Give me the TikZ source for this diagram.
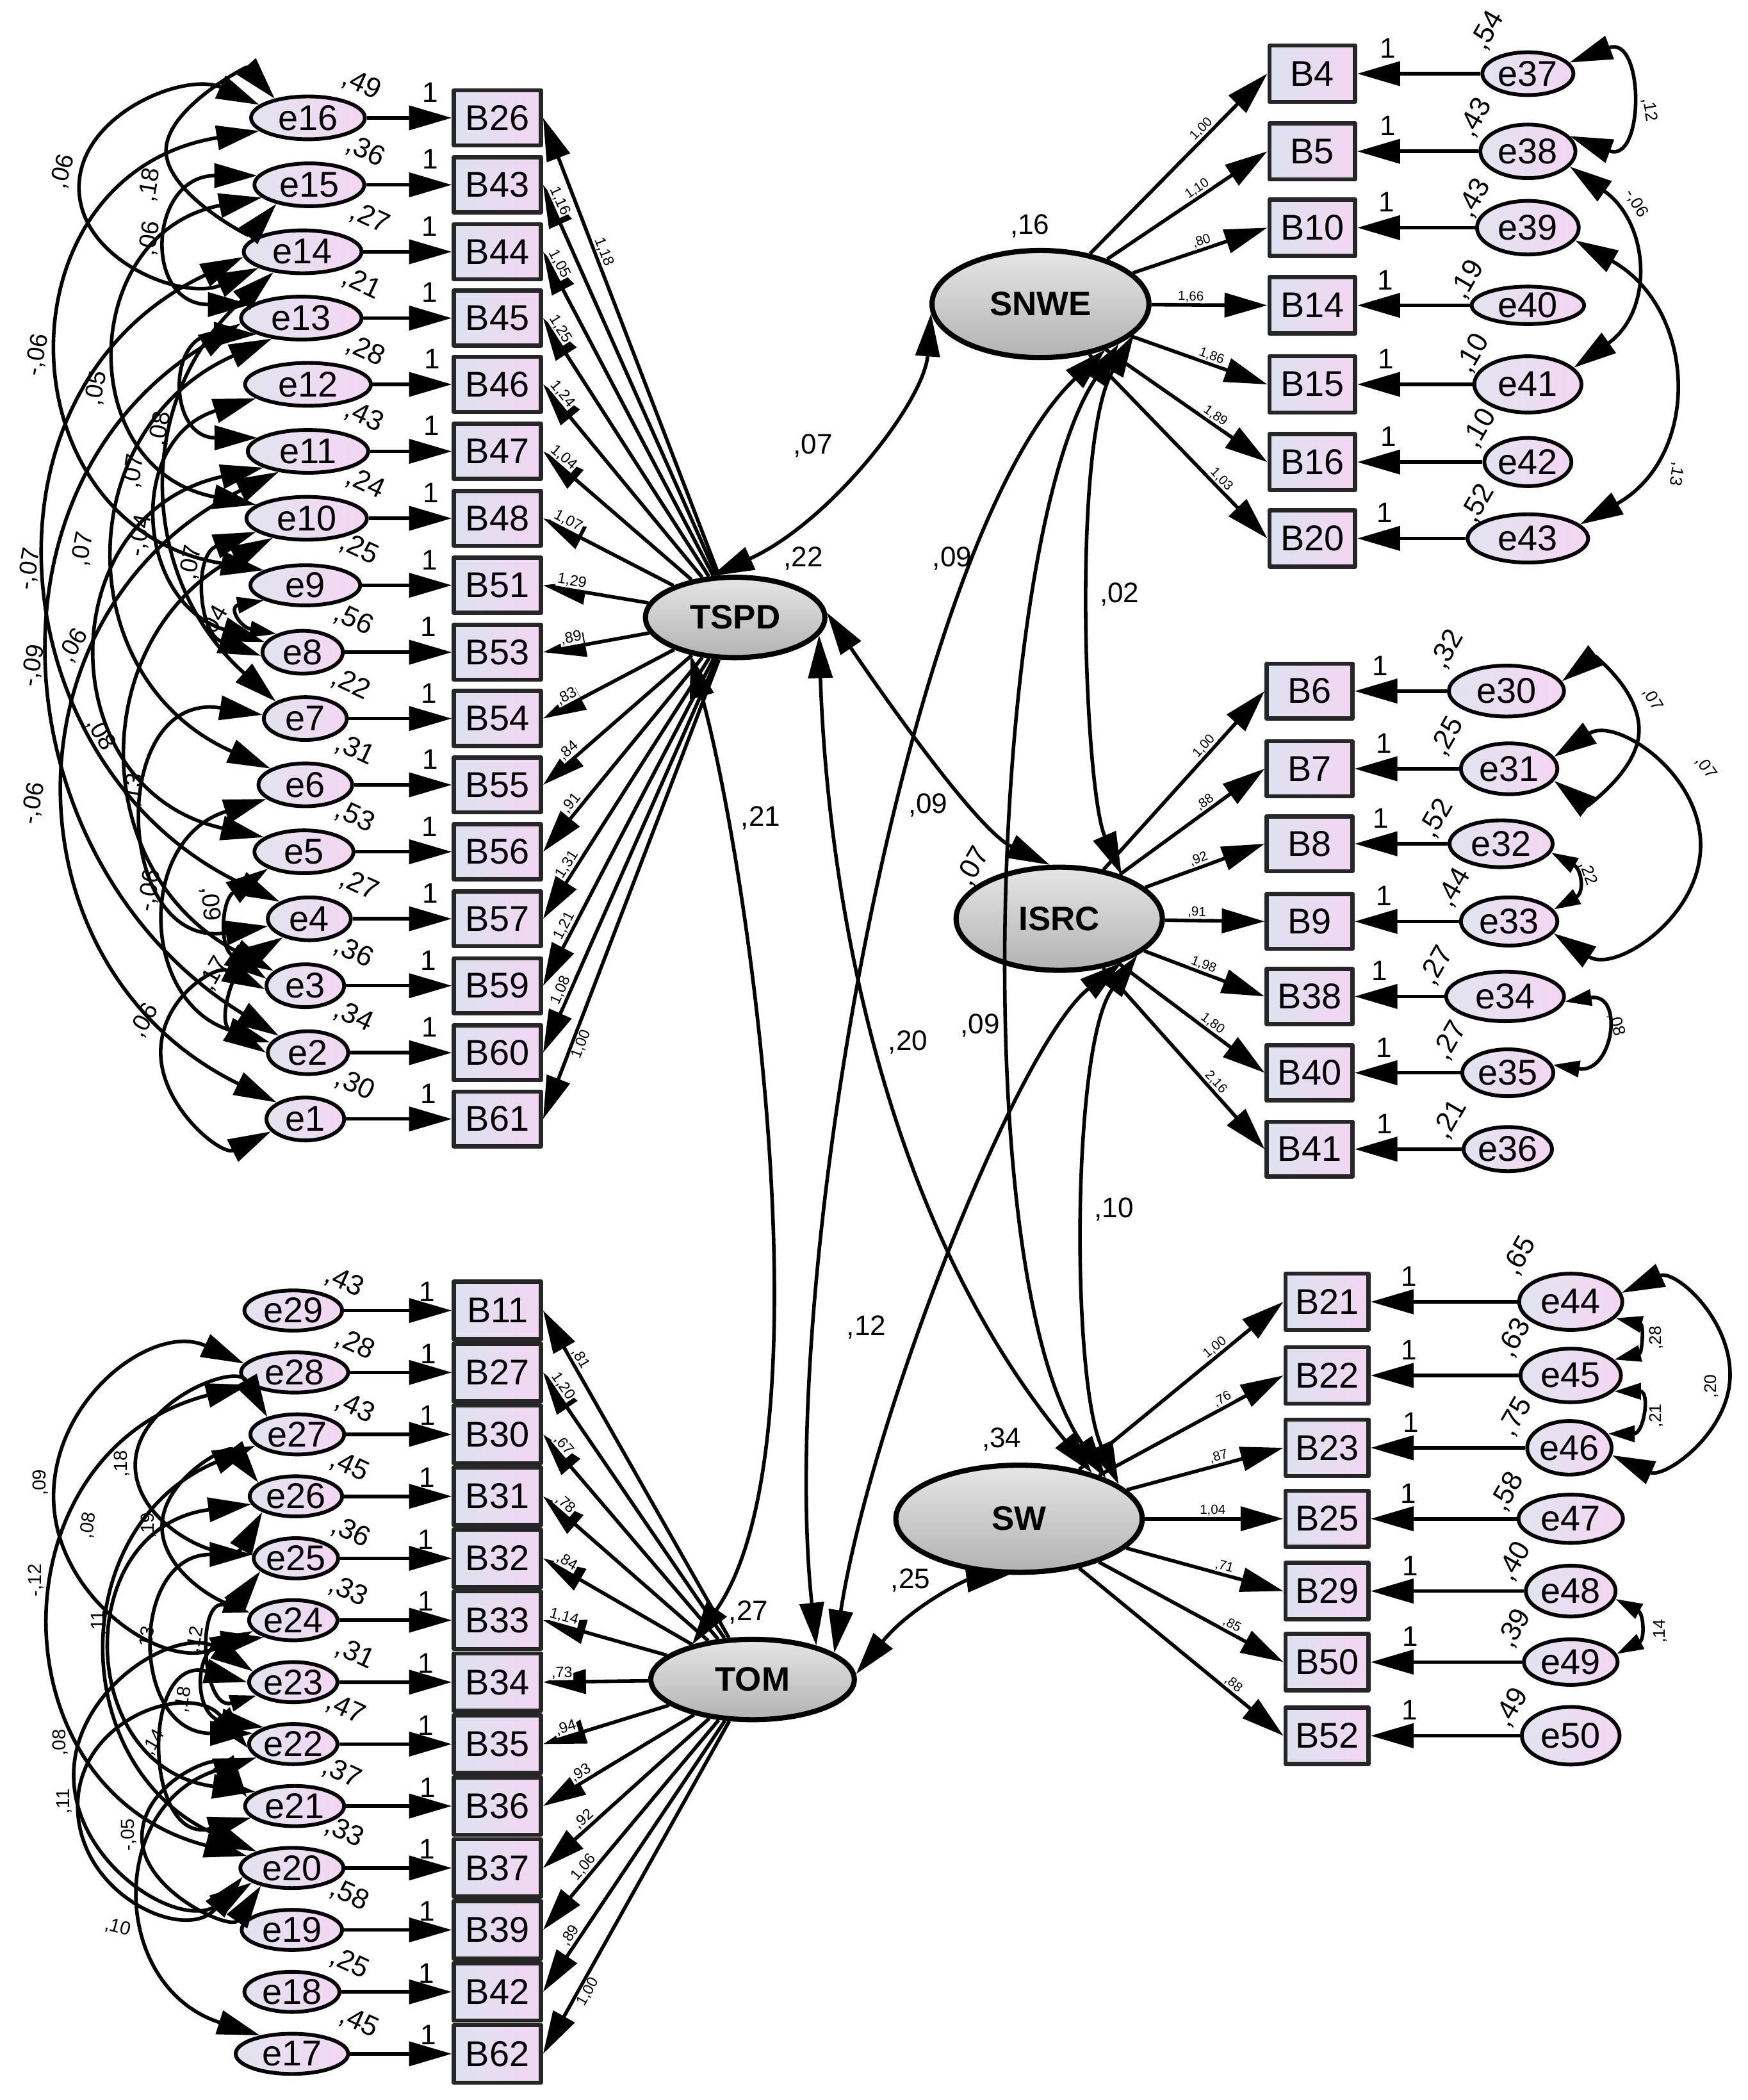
\documentclass[tikz,border=0pt]{standalone}
\usepackage{fontspec}
\setmainfont{Liberation Sans}
\usepackage{tikz}
\usetikzlibrary{arrows.meta,shapes.geometric}
\definecolor{obsL}{RGB}{222,226,240}
\definecolor{obsR}{RGB}{242,214,242}
\definecolor{errL}{RGB}{226,228,240}
\definecolor{errR}{RGB}{244,214,242}
\begin{document}
\begin{tikzpicture}[line join=round,>={Triangle[length=16mm,width=9mm]},x=0.5mm,y=-0.5mm,
  obs/.style={draw=black!85,line width=4.5pt,left color=obsL,right color=obsR,minimum width=32.5mm,minimum height=20.5mm,inner sep=0pt,font=\fontsize{38}{40}\selectfont},
  err/.style={ellipse,draw=black,line width=4pt,left color=errL,right color=errR,minimum width=40mm,minimum height=16mm,inner sep=0pt,font=\fontsize{38}{40}\selectfont},
  lat/.style={ellipse,draw=black,line width=5.5pt,top color=black!10,bottom color=black!30,inner sep=0pt,font=\fontsize{36}{38}\selectfont\bfseries},
  link/.style={->,line width=3.8pt},
  cov/.style={<->,line width=3.8pt},
  scov/.style={<->,line width=3.8pt,>={Triangle[length=10mm,width=6mm]}},
  one/.style={font=\fontsize{30}{32}\selectfont,inner sep=2pt},
  vlab/.style={font=\fontsize{30}{32}\selectfont,inner sep=0pt},
  lcov/.style={font=\fontsize{30}{32}\selectfont,inner sep=0pt},
  load/.style={font=\fontsize{16}{17}\selectfont,inner sep=1pt,fill=white},
  rload/.style={font=\fontsize{14}{15}\selectfont,inner sep=1pt,fill=white},
  ecov/.style={font=\fontsize{26}{28}\selectfont,inner sep=0pt},
  lecov/.style={font=\fontsize{20}{22}\selectfont,inner sep=0pt},
  recov/.style={font=\fontsize{18}{20}\selectfont,inner sep=0pt}]
\useasboundingbox (0,0) rectangle (1305,1568);

\node[lat,minimum width=67mm,minimum height=30mm] (TSPD) at (549,461) {TSPD};
\node[lat,minimum width=81mm,minimum height=40mm] (SNWE) at (777,227) {SNWE};
\node[lat,minimum width=77mm,minimum height=38.5mm] (ISRC) at (791,686) {ISRC};
\node[lat,minimum width=92mm,minimum height=40mm] (SW) at (761,1134) {SW};
\node[lat,minimum width=76mm,minimum height=30mm] (TOM) at (562,1254) {TOM};

\node[obs] (B26) at (371.5,88) {B26};
\node[obs] (B43) at (371.5,138) {B43};
\node[obs] (B44) at (371.5,188) {B44};
\node[obs] (B45) at (371.5,237.5) {B45};
\node[obs] (B46) at (371.5,287) {B46};
\node[obs] (B47) at (371.5,337) {B47};
\node[obs] (B48) at (371.5,387) {B48};
\node[obs] (B51) at (371.5,437) {B51};
\node[obs] (B53) at (371.5,487) {B53};
\node[obs] (B54) at (371.5,536.5) {B54};
\node[obs] (B55) at (371.5,586) {B55};
\node[obs] (B56) at (371.5,636) {B56};
\node[obs] (B57) at (371.5,686) {B57};
\node[obs] (B59) at (371.5,736) {B59};
\node[obs] (B60) at (371.5,786) {B60};
\node[obs] (B61) at (371.5,835.5) {B61};

\node[err,minimum width=42.5mm] (e16) at (230,88) {e16};
\node[err,minimum width=41mm] (e15) at (231,138) {e15};
\node[err,minimum width=44mm] (e14) at (226,188) {e14};
\node[err,minimum width=45mm] (e13) at (225,237.5) {e13};
\node[err,minimum width=47mm] (e12) at (230,287) {e12};
\node[err,minimum width=45mm] (e11) at (230,337) {e11};
\node[err,minimum width=45mm] (e10) at (229,387) {e10};
\node[err,minimum width=41mm,minimum height=15mm] (e9) at (228,437) {e9};
\node[err,minimum width=30mm] (e8) at (226,487) {e8};
\node[err,minimum width=31mm] (e7) at (228,536.5) {e7};
\node[err,minimum width=35mm] (e6) at (228,586) {e6};
\node[err,minimum width=37mm] (e5) at (227,636) {e5};
\node[err,minimum width=31mm] (e4) at (231,686) {e4};
\node[err,minimum width=29mm] (e3) at (228,736) {e3};
\node[err,minimum width=30mm] (e2) at (230,786) {e2};
\node[err,minimum width=29mm] (e1) at (228,835.5) {e1};

\node[obs,minimum height=21.5mm] (B11) at (371.5,978.5) {B11};
\node[obs,minimum height=21.5mm] (B27) at (371.5,1024.75) {B27};
\node[obs,minimum height=21.5mm] (B30) at (371.5,1071) {B30};
\node[obs,minimum height=21.5mm] (B31) at (371.5,1117.25) {B31};
\node[obs,minimum height=21.5mm] (B32) at (371.5,1163.5) {B32};
\node[obs,minimum height=21.5mm] (B33) at (371.5,1209.75) {B33};
\node[obs,minimum height=21.5mm] (B34) at (371.5,1256) {B34};
\node[obs,minimum height=21.5mm] (B35) at (371.5,1302.25) {B35};
\node[obs,minimum height=21.5mm] (B36) at (371.5,1348.5) {B36};
\node[obs,minimum height=21.5mm] (B37) at (371.5,1394.75) {B37};
\node[obs,minimum height=21.5mm] (B39) at (371.5,1441) {B39};
\node[obs,minimum height=21.5mm] (B42) at (371.5,1487.25) {B42};
\node[obs,minimum height=21.5mm] (B62) at (371.5,1533.5) {B62};

\node[err,minimum width=36.5mm,minimum height=15mm] (e29) at (219,978.5) {e29};
\node[err,minimum width=40mm,minimum height=15mm] (e28) at (220,1024.75) {e28};
\node[err,minimum width=35mm,minimum height=15mm] (e27) at (222,1071) {e27};
\node[err,minimum width=34.5mm,minimum height=15mm] (e26) at (221,1117.25) {e26};
\node[err,minimum width=31mm,minimum height=15mm] (e25) at (221,1163.5) {e25};
\node[err,minimum width=33mm,minimum height=15mm] (e24) at (219,1209.75) {e24};
\node[err,minimum width=33mm,minimum height=15mm] (e23) at (219,1256) {e23};
\node[err,minimum width=33mm,minimum height=15mm] (e22) at (219,1302.25) {e22};
\node[err,minimum width=37mm,minimum height=15mm] (e21) at (220,1348.5) {e21};
\node[err,minimum width=38.5mm,minimum height=15mm] (e20) at (218,1394.75) {e20};
\node[err,minimum width=37.5mm,minimum height=15mm] (e19) at (218,1441) {e19};
\node[err,minimum width=35.5mm,minimum height=15mm] (e18) at (218,1487.25) {e18};
\node[err,minimum width=42mm,minimum height=15mm] (e17) at (218,1533.5) {e17};

\node[obs,minimum width=32mm,minimum height=21mm] (B4) at (980,55) {B4};
\node[obs,minimum width=32mm,minimum height=21mm] (B5) at (980,113) {B5};
\node[obs,minimum width=32mm,minimum height=21mm] (B10) at (980,170) {B10};
\node[obs,minimum width=32mm,minimum height=21mm] (B14) at (980,228) {B14};
\node[obs,minimum width=32mm,minimum height=21mm] (B15) at (980,287) {B15};
\node[obs,minimum width=32mm,minimum height=21mm] (B16) at (980,345) {B16};
\node[obs,minimum width=32mm,minimum height=21mm] (B20) at (980,402) {B20};

\node[err,minimum width=34mm] (e37) at (1141,55) {e37};
\node[err,minimum width=35.5mm,minimum height=20mm] (e38) at (1141,113) {e38};
\node[err,minimum width=38mm,minimum height=20mm] (e39) at (1141,170) {e39};
\node[err,minimum width=42mm,minimum height=14mm] (e40) at (1141,228) {e40};
\node[err,minimum width=40mm,minimum height=21mm] (e41) at (1141,287) {e41};
\node[err,minimum width=32.5mm,minimum height=18mm] (e42) at (1141,345) {e42};
\node[err,minimum width=45mm,minimum height=18mm] (e43) at (1141,402) {e43};

\node[obs,minimum width=32mm] (B6) at (978,516) {B6};
\node[obs,minimum width=32mm] (B7) at (978,574) {B7};
\node[obs,minimum width=32mm] (B8) at (978,630) {B8};
\node[obs,minimum width=32mm] (B9) at (978,688) {B9};
\node[obs,minimum width=32mm] (B38) at (978,744) {B38};
\node[obs,minimum width=32mm] (B40) at (978,801) {B40};
\node[obs,minimum width=32mm] (B41) at (978,858) {B41};

\node[err,minimum width=43mm,minimum height=19mm] (e30) at (1125,516) {e30};
\node[err,minimum width=36mm,minimum height=19mm] (e31) at (1127,574) {e31};
\node[err,minimum width=38.5mm,minimum height=17.5mm] (e32) at (1121,630) {e32};
\node[err,minimum width=36mm,minimum height=18mm] (e33) at (1127,688) {e33};
\node[err,minimum width=44mm,minimum height=18.5mm] (e34) at (1124,744) {e34};
\node[err,minimum width=34mm,minimum height=17.5mm] (e35) at (1126,801) {e35};
\node[err,minimum width=33mm,minimum height=16.5mm] (e36) at (1126,858) {e36};

\node[obs,minimum width=31mm,minimum height=21mm] (B21) at (991,972) {B21};
\node[obs,minimum width=31mm,minimum height=21mm] (B22) at (991,1027) {B22};
\node[obs,minimum width=31mm,minimum height=21mm] (B23) at (991,1081) {B23};
\node[obs,minimum width=31mm,minimum height=21mm] (B25) at (991,1134) {B25};
\node[obs,minimum width=31mm,minimum height=21mm] (B29) at (991,1188) {B29};
\node[obs,minimum width=31mm,minimum height=21mm] (B50) at (991,1241) {B50};
\node[obs,minimum width=31mm,minimum height=21mm] (B52) at (991,1296) {B52};

\node[err,minimum width=38.5mm,minimum height=21mm] (e44) at (1173,972) {e44};
\node[err,minimum width=37.5mm,minimum height=20mm] (e45) at (1173,1027) {e45};
\node[err,minimum width=31.5mm,minimum height=20mm] (e46) at (1172,1081) {e46};
\node[err,minimum width=39mm,minimum height=18mm] (e47) at (1173,1134) {e47};
\node[err,minimum width=33.5mm,minimum height=19mm] (e48) at (1173,1188) {e48};
\node[err,minimum width=35mm,minimum height=17mm] (e49) at (1173,1241) {e49};
\node[err,minimum width=36.5mm,minimum height=21.5mm] (e50) at (1173,1296) {e50};

\draw[link] (e16) -- (B26) node[one,pos=0.75,above=4.5mm]{1};
\draw[link] (e15) -- (B43) node[one,pos=0.75,above=4.5mm]{1};
\draw[link] (e14) -- (B44) node[one,pos=0.75,above=4.5mm]{1};
\draw[link] (e13) -- (B45) node[one,pos=0.75,above=4.5mm]{1};
\draw[link] (e12) -- (B46) node[one,pos=0.75,above=4.5mm]{1};
\draw[link] (e11) -- (B47) node[one,pos=0.75,above=4.5mm]{1};
\draw[link] (e10) -- (B48) node[one,pos=0.75,above=4.5mm]{1};
\draw[link] (e9) -- (B51) node[one,pos=0.75,above=4.5mm]{1};
\draw[link] (e8) -- (B53) node[one,pos=0.78,above=4.5mm]{1};
\draw[link] (e7) -- (B54) node[one,pos=0.78,above=4.5mm]{1};
\draw[link] (e6) -- (B55) node[one,pos=0.78,above=4.5mm]{1};
\draw[link] (e5) -- (B56) node[one,pos=0.77,above=4.5mm]{1};
\draw[link] (e4) -- (B57) node[one,pos=0.78,above=4.5mm]{1};
\draw[link] (e3) -- (B59) node[one,pos=0.78,above=4.5mm]{1};
\draw[link] (e2) -- (B60) node[one,pos=0.78,above=4.5mm]{1};
\draw[link] (e1) -- (B61) node[one,pos=0.78,above=4.5mm]{1};

\draw[link] (e29) -- (B11) node[one,pos=0.77,above=2mm]{1};
\draw[link] (e28) -- (B27) node[one,pos=0.77,above=2mm]{1};
\draw[link] (e27) -- (B30) node[one,pos=0.77,above=2mm]{1};
\draw[link] (e26) -- (B31) node[one,pos=0.77,above=2mm]{1};
\draw[link] (e25) -- (B32) node[one,pos=0.77,above=2mm]{1};
\draw[link] (e24) -- (B33) node[one,pos=0.77,above=2mm]{1};
\draw[link] (e23) -- (B34) node[one,pos=0.77,above=2mm]{1};
\draw[link] (e22) -- (B35) node[one,pos=0.77,above=2mm]{1};
\draw[link] (e21) -- (B36) node[one,pos=0.77,above=2mm]{1};
\draw[link] (e20) -- (B37) node[one,pos=0.77,above=2mm]{1};
\draw[link] (e19) -- (B39) node[one,pos=0.77,above=2mm]{1};
\draw[link] (e18) -- (B42) node[one,pos=0.77,above=2mm]{1};
\draw[link] (e17) -- (B62) node[one,pos=0.77,above=2mm]{1};

\draw[link] (e37) -- (B4) node[one,pos=0.75,above=4.5mm]{1};
\draw[link] (e38) -- (B5) node[one,pos=0.75,above=4.5mm]{1};
\draw[link] (e39) -- (B10) node[one,pos=0.75,above=4.5mm]{1};
\draw[link] (e40) -- (B14) node[one,pos=0.75,above=4.5mm]{1};
\draw[link] (e41) -- (B15) node[one,pos=0.75,above=4.5mm]{1};
\draw[link] (e42) -- (B16) node[one,pos=0.75,above=4.5mm]{1};
\draw[link] (e43) -- (B20) node[one,pos=0.75,above=4.5mm]{1};
\draw[link] (e30) -- (B6) node[one,pos=0.72,above=4.5mm]{1};
\draw[link] (e31) -- (B7) node[one,pos=0.72,above=4.5mm]{1};
\draw[link] (e32) -- (B8) node[one,pos=0.72,above=4.5mm]{1};
\draw[link] (e33) -- (B9) node[one,pos=0.72,above=4.5mm]{1};
\draw[link] (e34) -- (B38) node[one,pos=0.72,above=4.5mm]{1};
\draw[link] (e35) -- (B40) node[one,pos=0.72,above=4.5mm]{1};
\draw[link] (e36) -- (B41) node[one,pos=0.72,above=4.5mm]{1};
\draw[link] (e44) -- (B21) node[one,pos=0.74,above=4.5mm]{1};
\draw[link] (e45) -- (B22) node[one,pos=0.74,above=4.5mm]{1};
\draw[link] (e46) -- (B23) node[one,pos=0.74,above=4.5mm]{1};
\draw[link] (e47) -- (B25) node[one,pos=0.74,above=4.5mm]{1};
\draw[link] (e48) -- (B29) node[one,pos=0.74,above=4.5mm]{1};
\draw[link] (e49) -- (B50) node[one,pos=0.74,above=4.5mm]{1};
\draw[link] (e50) -- (B52) node[one,pos=0.74,above=4.5mm]{1};

\draw[link] (TSPD) -- (B26.east) node[load,pos=0.70,sloped,above]{1,18};
\draw[link] (TSPD) -- (B43.east) node[load,pos=0.95,sloped,above]{1,16};
\draw[link] (TSPD) -- (B44.east) node[load,pos=0.95,sloped,above]{1,05};
\draw[link] (TSPD) -- (B45.east) node[load,pos=0.94,sloped,above]{1,25};
\draw[link] (TSPD) -- (B46.east) node[load,pos=0.92,sloped,above]{1,24};
\draw[link] (TSPD) -- (B47.east) node[load,pos=0.90,sloped,above]{1,04};
\draw[link] (TSPD) -- (B48.east) node[load,pos=0.84,sloped,above]{1,07};
\draw[link] (TSPD) -- (B51.east) node[load,pos=0.74,sloped,above]{1,29};
\draw[link] (TSPD) -- (B53.east) node[load,pos=0.72,sloped,above]{,89};
\draw[link] (TSPD) -- (B54.east) node[load,pos=0.79,sloped,above]{,83};
\draw[link] (TSPD) -- (B55.east) node[load,pos=0.79,sloped,above]{,84};
\draw[link] (TSPD) -- (B56.east) node[load,pos=0.78,sloped,above]{,91};
\draw[link] (TSPD) -- (B57.east) node[load,pos=0.81,sloped,above]{1,31};
\draw[link] (TSPD) -- (B59.east) node[load,pos=0.83,sloped,above]{1,21};
\draw[link] (TSPD) -- (B60.east) node[load,pos=0.85,sloped,above]{1,08};
\draw[link] (TSPD) -- (B61.east) node[load,pos=0.83,sloped,below]{1,00};

\draw[link] (TOM) -- (B11.east) node[load,pos=0.84,sloped,above]{,81};
\draw[link] (TOM) -- (B27.east) node[load,pos=0.93,sloped,above]{1,20};
\draw[link] (TOM) -- (B30.east) node[load,pos=0.92,sloped,above]{,67};
\draw[link] (TOM) -- (B31.east) node[load,pos=0.90,sloped,above]{,78};
\draw[link] (TOM) -- (B32.east) node[load,pos=0.87,sloped,above]{,84};
\draw[link] (TOM) -- (B33.east) node[load,pos=0.85,sloped,above]{1,14};
\draw[link] (TOM) -- (B34.east) node[load,pos=0.82,sloped,above]{,73};
\draw[link] (TOM) -- (B35.east) node[load,pos=0.80,sloped,above]{,94};
\draw[link] (TOM) -- (B36.east) node[load,pos=0.72,sloped,above]{,93};
\draw[link] (TOM) -- (B37.east) node[load,pos=0.72,sloped,above]{,92};
\draw[link] (TOM) -- (B39.east) node[load,pos=0.73,sloped,above]{1,06};
\draw[link] (TOM) -- (B42.east) node[load,pos=0.81,sloped,above]{,89};
\draw[link] (TOM) -- (B62.east) node[load,pos=0.80,sloped,below]{1,00};

\draw[link] (SNWE) -- (B4.west) node[rload,pos=0.66,sloped,above]{1,00};
\draw[link] (SNWE) -- (B5.west) node[rload,pos=0.59,sloped,above]{1,10};
\draw[link] (SNWE) -- (B10.west) node[rload,pos=0.53,sloped,above]{,80};
\draw[link] (SNWE) -- (B14.west) node[rload,pos=0.34,sloped,above]{1,66};
\draw[link] (SNWE) -- (B15.west) node[rload,pos=0.57,sloped,above]{1,86};
\draw[link] (SNWE) -- (B16.west) node[rload,pos=0.65,sloped,above]{1,89};
\draw[link] (SNWE) -- (B20.west) node[rload,pos=0.71,sloped,above]{1,03};
\draw[link] (ISRC) -- (B6.west) node[rload,pos=0.66,sloped,above]{1,00};
\draw[link] (ISRC) -- (B7.west) node[rload,pos=0.62,sloped,above]{,88};
\draw[link] (ISRC) -- (B8.west) node[rload,pos=0.47,sloped,above]{,92};
\draw[link] (ISRC) -- (B9.west) node[rload,pos=0.32,sloped,above]{,91};
\draw[link] (ISRC) -- (B38.west) node[rload,pos=0.47,sloped,above]{1,98};
\draw[link] (ISRC) -- (B40.west) node[rload,pos=0.61,sloped,above]{1,80};
\draw[link] (ISRC) -- (B41.west) node[rload,pos=0.66,sloped,above]{2,16};
\draw[link] (SW) -- (B21.west) node[rload,pos=0.69,sloped,above]{1,00};
\draw[link] (SW) -- (B22.west) node[rload,pos=0.69,sloped,above]{,76};
\draw[link] (SW) -- (B23.west) node[rload,pos=0.60,sloped,above]{,87};
\draw[link] (SW) -- (B25.west) node[rload,pos=0.49,sloped,above]{1,04};
\draw[link] (SW) -- (B29.west) node[rload,pos=0.61,sloped,above]{,71};
\draw[link] (SW) -- (B50.west) node[rload,pos=0.70,sloped,above]{,85};
\draw[link] (SW) -- (B52.west) node[rload,pos=0.73,sloped,above]{,88};

\draw[cov] (TSPD.120) .. controls (620,390) and (690,300) .. (SNWE.185);
\draw[cov] (TSPD.-140) .. controls (560,650) and (620,1080) .. (TOM.150);
\draw[cov] (TSPD.-12) .. controls (617,640) and (650,900) .. (SW.32);
\draw[cov] (TSPD.3) .. controls (660,520) and (730,620) .. (ISRC.100);
\draw[cov] (SNWE.-35) .. controls (680,400) and (580,950) .. (TOM.28);
\draw[cov] (SNWE.-27) .. controls (740,400) and (720,950) .. (SW.25);
\draw[cov] (SNWE.-18) .. controls (800,330) and (810,590) .. (ISRC.35);
\draw[cov] (ISRC.-35) .. controls (760,780) and (650,1060) .. (TOM.18);
\draw[cov] (ISRC.-25) .. controls (800,780) and (800,1030) .. (SW.19);
\draw[cov] (TOM.3) .. controls (680,1200) and (720,1180) .. (SW.-100);

\draw[cov] (e16.165) .. controls +(-55,-25) and +(0,-55) .. (59,140) .. controls +(0,55) and +(-55,25) .. (e14.200);
\draw[cov] (e16.150) .. controls +(-21.1,-24) and +(0,-31.9) .. (124,112.5) .. controls +(0,31.9) and +(-21.1,24) .. (e15.210);
\draw[cov] (e15.170) .. controls +(-81,0) and +(-81,0) .. (e13.165);
\draw[cov] (e16.195) .. controls +(-197,32) and +(-197,-32) .. (e9.160);
\draw[cov] (e15.195) .. controls +(-137,26) and +(-137,-26) .. (e10.165);
\draw[cov] (e13.200) .. controls +(-67,0) and +(-67,0) .. (e11.165);
\draw[cov] (e14.215) .. controls +(-104,93) and +(-104,-93) .. (e7.150);
\draw[cov] (e12.195) .. controls +(-97,30) and +(-97,-30) .. (e8.165);
\draw[cov] (e10.195) .. controls +(-47,17) and +(-47,-17) .. (e8.185);
\draw[cov] (e14.185) .. controls +(-209,99) and +(-209,-99) .. (e4.150);
\draw[cov] (e13.215) .. controls +(-151,67) and +(-151,-67) .. (e6.155);
\draw[scov] (e9.200) .. controls +(-27,5) and +(-27,-5) .. (e8.145);
\draw[cov] (e13.185) .. controls +(-204,125) and +(-204,-125) .. (e2.150);
\draw[cov] (e11.200) .. controls +(-160,35) and +(-160,-35) .. (e5.160);
\draw[cov] (e10.210) .. controls +(-140,74) and +(-140,-74) .. (e3.155);
\draw[cov] (e7.175) .. controls +(-116,-19) and +(-116,19) .. (e4.190);
\draw[cov] (e11.215) .. controls +(-207,101) and +(-207,-101) .. (e1.150);
\draw[cov] (e6.200) .. controls +(-97,30) and +(-97,-30) .. (e2.165);
\draw[cov] (e5.205) .. controls +(-35,24) and +(-35,-24) .. (e3.170);
\draw[cov] (e4.215) .. controls +(-37,23) and +(-37,-23) .. (e2.180);
\draw[cov] (e3.185) .. controls +(-36.8,-18.4) and +(0,-41.1) .. (120,785.75) .. controls +(0,41.1) and +(-36.8,18.4) .. (e1.200);

\draw[cov] (e28.170) .. controls +(-67.2,-31.1) and +(0,-74.1) .. (40,1117.4) .. controls +(0,74.1) and +(-67.2,31.1) .. (e24.195);
\draw[cov] (e27.150) .. controls +(-23.5,-40.9) and +(0,-47.2) .. (101,1094) .. controls +(0,47.2) and +(-23.5,40.9) .. (e26.205);
\draw[cov] (e27.195) .. controls +(-143,60) and +(-143,-60) .. (e20.155);
\draw[cov] (e26.160) .. controls +(-22,-28.7) and +(0,-36.2) .. (121,1140) .. controls +(0,36.2) and +(-22,28.7) .. (e25.200);
\draw[cov] (e28.195) .. controls +(-191,49) and +(-191,-49) .. (e20.165);
\draw[cov] (e26.190) .. controls +(-135,17.5) and +(-135,-17.5) .. (e21.160);
\draw[cov] (e25.175) .. controls +(-92,0) and +(-92,0) .. (e22.165);
\draw[scov] (e24.170) .. controls +(-41,-12.5) and +(-41,12.5) .. (e23.200);
\draw[cov] (e24.210) .. controls +(-53,7.5) and +(-53,-7.5) .. (e22.150);
\draw[cov] (e23.165) .. controls +(-54.9,-36.1) and +(0,-65.7) .. (55,1325.5) .. controls +(0,65.7) and +(-54.9,36.1) .. (e20.200);
\draw[cov] (e23.180) .. controls +(-80,-21.5) and +(-80,21.5) .. (e21.195);
\draw[cov] (e22.185) .. controls +(-42.8,-50.3) and +(0,-66.1) .. (58,1348.5) .. controls +(0,66.1) and +(-42.8,50.3) .. (e20.190);
\draw[cov] (e21.170) .. controls +(-22.7,-33.5) and +(0,-40.4) .. (106,1371.7) .. controls +(0,40.4) and +(-22.7,33.5) .. (e20.210);
\draw[cov] (e22.200) .. controls +(-112,36) and +(-112,-36) .. (e17.150);

\draw[cov] (e37.15) .. controls +(56,-21) and +(56,21) .. (e38.20);
\draw[cov] (e38.-20) .. controls +(60,42.5) and +(60,-42.5) .. (e41.20);
\draw[cov] (e39.-15) .. controls +(91,51) and +(91,-51) .. (e43.15);
\draw[cov] (e30.10) .. controls +(24.1,-18.6) and +(0,-30.4) .. (1224,545) .. controls +(0,30.4) and +(24.1,18.6) .. (e31.-15);
\draw[cov] (e31.15) .. controls +(45.5,-30.1) and +(0,-54.5) .. (1270,631) .. controls +(0,54.5) and +(45.5,30.1) .. (e33.-15);
\draw[scov] (e32.-10) .. controls +(23,12.7) and +(23,-12.7) .. (e33.15);
\draw[scov] (e34.-5) .. controls +(45,-7) and +(45,7) .. (e35.10);
\draw[scov] (e44.-20) .. controls +(21,5) and +(21,-5) .. (e45.20);
\draw[scov] (e45.-20) .. controls +(27,0) and +(27,0) .. (e46.20);
\draw[cov] (e44.10) .. controls +(39.4,-17.6) and +(0,-43.2) .. (1292,1026.5) .. controls +(0,43.2) and +(39.4,17.6) .. (e46.-10);
\draw[scov] (e48.-10) .. controls +(21,11) and +(21,-11) .. (e49.10);

\node[vlab] at (600,417) {,22};
\node[vlab] at (769,169) {,16};
\node[vlab,rotate=60] at (727,647) {,07};
\node[vlab] at (748,1075) {,34};
\node[vlab] at (559,1204) {,27};

\node[lcov] at (607,333) {,07};
\node[lcov] at (711,417) {,09};
\node[lcov] at (836,444) {,02};
\node[lcov] at (568,611) {,21};
\node[lcov] at (693,601) {,09};
\node[lcov] at (678,778) {,20};
\node[lcov] at (732,766) {,09};
\node[lcov] at (647,991) {,12};
\node[lcov] at (832,903) {,10};
\node[lcov] at (680,1180) {,25};

\node[vlab,rotate=-25] at (270,63) {,49};
\node[vlab,rotate=-25] at (273,113) {,36};
\node[vlab,rotate=-25] at (276,163) {,27};
\node[vlab,rotate=-25] at (270,212) {,21};
\node[vlab,rotate=-25] at (273,262) {,28};
\node[vlab,rotate=-25] at (272,311) {,43};
\node[vlab,rotate=-25] at (273,361) {,24};
\node[vlab,rotate=-25] at (268,410) {,25};
\node[vlab,rotate=-25] at (264,463) {,56};
\node[vlab,rotate=-25] at (262,511) {,22};
\node[vlab,rotate=-25] at (265,560) {,31};
\node[vlab,rotate=-25] at (265,610) {,53};
\node[vlab,rotate=-25] at (268,661) {,27};
\node[vlab,rotate=-25] at (264,711) {,36};
\node[vlab,rotate=-25] at (264,759) {,34};
\node[vlab,rotate=-25] at (265,810) {,30};

\node[vlab,rotate=-25] at (257,957) {,43};
\node[vlab,rotate=-25] at (265,1004) {,28};
\node[vlab,rotate=-25] at (265,1051) {,43};
\node[vlab,rotate=-25] at (261,1095) {,45};
\node[vlab,rotate=-25] at (262,1144) {,36};
\node[vlab,rotate=-25] at (260,1188) {,33};
\node[vlab,rotate=-25] at (265,1235) {,31};
\node[vlab,rotate=-25] at (258,1276) {,47};
\node[vlab,rotate=-25] at (255,1324) {,37};
\node[vlab,rotate=-25] at (257,1368) {,33};
\node[vlab,rotate=-25] at (261,1415) {,58};
\node[vlab,rotate=-25] at (261,1466) {,25};
\node[vlab,rotate=-25] at (268,1510) {,45};

\node[vlab,rotate=60] at (1111,23) {,54};
\node[vlab,rotate=60] at (1102,88) {,43};
\node[vlab,rotate=60] at (1101,148) {,43};
\node[vlab,rotate=60] at (1096,209) {,19};
\node[vlab,rotate=60] at (1100,264) {,10};
\node[vlab,rotate=60] at (1105,320) {,10};
\node[vlab,rotate=60] at (1104,376) {,52};
\node[vlab,rotate=60] at (1081,485) {,32};
\node[vlab,rotate=60] at (1081,550) {,25};
\node[vlab,rotate=60] at (1073,611) {,52};
\node[vlab,rotate=60] at (1086,663) {,44};
\node[vlab,rotate=60] at (1073,721) {,27};
\node[vlab,rotate=60] at (1083,777) {,27};
\node[vlab,rotate=60] at (1083,836) {,21};
\node[vlab,rotate=60] at (1135,938) {,65};
\node[vlab,rotate=60] at (1131,999) {,63};
\node[vlab,rotate=60] at (1132,1058) {,75};
\node[vlab,rotate=60] at (1126,1114) {,58};
\node[vlab,rotate=60] at (1131,1166) {,40};
\node[vlab,rotate=60] at (1131,1216) {,39};
\node[vlab,rotate=60] at (1129,1275) {,49};

\node[ecov,rotate=75] at (47,128) {,06};
\node[ecov,rotate=80] at (112,138) {,18};
\node[ecov,rotate=80] at (112,178) {,06};
\node[ecov,rotate=80] at (28,265) {-,06};
\node[ecov,rotate=80] at (72,290) {,05};
\node[ecov,rotate=80] at (120,320) {,08};
\node[ecov,rotate=80] at (100,352) {,07};
\node[ecov,rotate=80] at (105,400) {-,04};
\node[ecov,rotate=80] at (143,420) {,07};
\node[ecov,rotate=80] at (22,425) {-,07};
\node[ecov,rotate=80] at (62,410) {,07};
\node[ecov,rotate=60] at (160,465) {,04};
\node[ecov,rotate=80] at (25,497) {-,09};
\node[ecov,rotate=60] at (55,482) {,06};
\node[ecov,rotate=-60] at (75,548) {,08};
\node[ecov,rotate=80] at (100,590) {,13};
\node[ecov,rotate=80] at (25,600) {-,06};
\node[ecov,rotate=80] at (112,665) {-,06};
\node[ecov,rotate=-85] at (157,675) {,09};
\node[ecov,rotate=60] at (160,727) {,17};
\node[ecov,rotate=60] at (108,762) {,06};

\node[lecov,rotate=90] at (30,1107) {,09};
\node[lecov,rotate=90] at (91,1093) {,18};
\node[lecov,rotate=80] at (66,1139) {,08};
\node[lecov,rotate=90] at (111,1139) {,19};
\node[lecov,rotate=90] at (27,1180) {-,12};
\node[lecov,rotate=90] at (74,1212) {,11};
\node[lecov,rotate=80] at (110,1224) {,13};
\node[lecov,rotate=80] at (146,1224) {,12};
\node[lecov,rotate=80] at (137,1269) {,18};
\node[lecov,rotate=90] at (45,1301) {,08};
\node[lecov,rotate=60] at (115,1301) {,14};
\node[lecov,rotate=90] at (48,1345) {,11};
\node[lecov,rotate=90] at (96,1370) {-,05};
\node[lecov,rotate=-15] at (88,1439) {,10};

\node[recov,rotate=-80] at (1232,82) {,12};
\node[recov,rotate=-60] at (1222,152) {-,06};
\node[recov,rotate=-100] at (1252,354) {,13};
\node[recov,rotate=-60] at (1234,522) {,07};
\node[recov,rotate=-55] at (1274,573) {,07};
\node[recov,rotate=-70] at (1186,652) {,22};
\node[recov,rotate=-75] at (1207,765) {,08};
\node[recov,rotate=90] at (1237,999) {,28};
\node[recov,rotate=90] at (1237,1057) {,21};
\node[recov,rotate=90] at (1278,1035) {,20};
\node[recov,rotate=90] at (1240,1218) {,14};
\end{tikzpicture}
\end{document}
